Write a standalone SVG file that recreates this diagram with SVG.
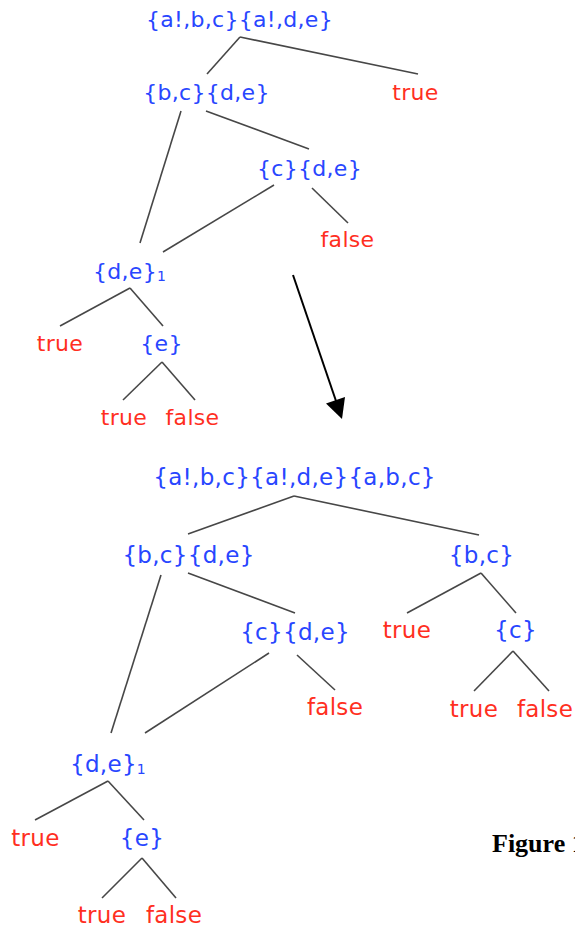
<svg xmlns="http://www.w3.org/2000/svg" width="575" height="928" viewBox="0 0 575 928">
<style>
text{font-family:"DejaVu Sans","Noto Sans",sans-serif;text-anchor:middle;letter-spacing:0.3px}
.t{font-size:22px}
.b{font-size:23px}
.set{fill:#2846ff}
.val{fill:#ff2f1f}
.sub{font-size:14px}
#connectors line{stroke:#474747;stroke-width:1.6;fill:none}
#arrow line{stroke:#000;stroke-width:2}
.fig{font-family:"Liberation Serif","Times New Roman",serif;font-weight:bold;font-size:26px;text-anchor:start;fill:#000;letter-spacing:0}
</style>
<rect width="575" height="928" fill="#fff"/>
<g id="connectors">
<line x1="240" y1="37" x2="207" y2="74"/>
<line x1="240" y1="37" x2="418" y2="74"/>
<line x1="181" y1="111" x2="140" y2="243"/>
<line x1="206" y1="111" x2="309" y2="149"/>
<line x1="274" y1="185" x2="163" y2="252"/>
<line x1="312" y1="188" x2="348" y2="223"/>
<line x1="130" y1="288" x2="60" y2="326"/>
<line x1="130" y1="288" x2="163" y2="326"/>
<line x1="162" y1="362" x2="123" y2="400"/>
<line x1="162" y1="362" x2="195" y2="400"/>
<line x1="294" y1="496" x2="188" y2="534"/>
<line x1="294" y1="496" x2="479" y2="535"/>
<line x1="161" y1="575" x2="111" y2="733"/>
<line x1="188" y1="573" x2="295" y2="613"/>
<line x1="269" y1="653" x2="145" y2="733"/>
<line x1="297" y1="655" x2="335" y2="690"/>
<line x1="481" y1="573" x2="407" y2="613"/>
<line x1="481" y1="573" x2="516" y2="613"/>
<line x1="513" y1="651" x2="474" y2="691"/>
<line x1="513" y1="651" x2="549" y2="691"/>
<line x1="108" y1="781" x2="35" y2="820"/>
<line x1="108" y1="781" x2="144" y2="820"/>
<line x1="142" y1="858" x2="102" y2="898"/>
<line x1="142" y1="858" x2="176" y2="898"/>
</g>
<g id="arrow">
<line x1="293" y1="275" x2="336" y2="401"/>
<polygon points="342,419 326,403.5 345,397" fill="#000"/>
</g>
<g id="n1"><text class="t set" x="239.5" y="27">{a!,b,c}{a!,d,e}</text></g>
<g id="n2"><text class="t set" x="206.5" y="100">{b,c}{d,e}</text></g>
<g id="n3"><text class="t val" x="415.5" y="100">true</text></g>
<g id="n4"><text class="t set" x="309.5" y="176">{c}{d,e}</text></g>
<g id="n5"><text class="t val" x="347.5" y="247">false</text></g>
<g id="n6"><text class="t set" x="93" y="279" style="text-anchor:start">{d,e}<tspan class="sub" dy="2">1</tspan></text></g>
<g id="n7"><text class="t val" x="60" y="351">true</text></g>
<g id="n8"><text class="t set" x="161.5" y="351">{e}</text></g>
<g id="n9"><text class="t val" x="124" y="425">true</text></g>
<g id="n10"><text class="t val" x="192.5" y="425">false</text></g>
<g id="m1"><text class="b set" x="294.5" y="485">{a!,b,c}{a!,d,e}{a,b,c}</text></g>
<g id="m2"><text class="b set" x="188.5" y="563">{b,c}{d,e}</text></g>
<g id="m3"><text class="b set" x="481.5" y="563">{b,c}</text></g>
<g id="m4"><text class="b set" x="295" y="640">{c}{d,e}</text></g>
<g id="m5"><text class="b val" x="335" y="715">false</text></g>
<g id="m6"><text class="b val" x="407" y="638">true</text></g>
<g id="m7"><text class="b set" x="515.5" y="638">{c}</text></g>
<g id="m8"><text class="b val" x="474" y="717">true</text></g>
<g id="m9"><text class="b val" x="545" y="717">false</text></g>
<g id="m10"><text class="b set" x="70" y="772" style="text-anchor:start">{d,e}<tspan class="sub" dy="2">1</tspan></text></g>
<g id="m11"><text class="b val" x="35.5" y="846">true</text></g>
<g id="m12"><text class="b set" x="142" y="846">{e}</text></g>
<g id="m13"><text class="b val" x="102" y="923">true</text></g>
<g id="m14"><text class="b val" x="174" y="923">false</text></g>
<text class="fig" x="492" y="852">Figure 1</text>
</svg>
